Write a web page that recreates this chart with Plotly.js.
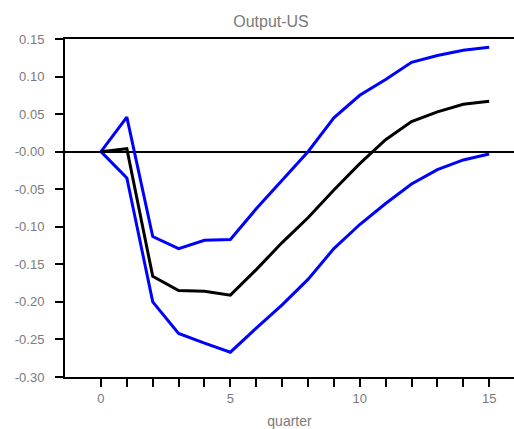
<!DOCTYPE html>
<html>
<head>
<meta charset="utf-8">
<script src="https://cdn.plot.ly/plotly-3.0.1.min.js"></script>
<style>
  html, body { margin: 0; padding: 0; background: #fff; }
  #chart { width: 514px; height: 429px; }
</style>
</head>
<body>
<div id="chart"></div>
<script>
const quarters = [0, 1, 2, 3, 4, 5, 6, 7, 8, 9, 10, 11, 12, 13, 14, 15];
const response = [0, 0.004, -0.166, -0.185, -0.186, -0.191, -0.157, -0.121, -0.088, -0.051, -0.016, 0.016, 0.040, 0.053, 0.063, 0.067];
const upperBand = [0, 0.046, -0.113, -0.129, -0.118, -0.117, -0.076, -0.038, 0.000, 0.045, 0.075, 0.096, 0.119, 0.128, 0.135, 0.139];
const lowerBand = [0, -0.035, -0.200, -0.242, -0.255, -0.267, -0.235, -0.204, -0.170, -0.129, -0.097, -0.069, -0.043, -0.024, -0.011, -0.003];

const xTickVals = [0, 1, 2, 3, 4, 5, 6, 7, 8, 9, 10, 11, 12, 13, 14, 15];
const xTickText = ["0", "", "", "", "", "5", "", "", "", "", "10", "", "", "", "", "15"];
const yTickVals = [-0.30, -0.25, -0.20, -0.15, -0.10, -0.05, 0.00, 0.05, 0.10, 0.15];
const yTickText = ["-0.30", "-0.25", "-0.20", "-0.15", "-0.10", "-0.05", "-0.00", "0.05", "0.10", "0.15"];

const textGray = '#7a7a7a';
const fontFam = 'Liberation Sans, Arial, sans-serif';

const traces = [
  { x: quarters, y: upperBand, mode: 'lines', line: { color: '#0000ff', width: 3 }, name: 'upper', hoverinfo: 'skip' },
  { x: quarters, y: lowerBand, mode: 'lines', line: { color: '#0000ff', width: 3 }, name: 'lower', hoverinfo: 'skip' },
  { x: quarters, y: response, mode: 'lines', line: { color: '#000000', width: 3 }, name: 'response', hoverinfo: 'skip' }
];

const layout = {
  width: 514,
  height: 429,
  margin: { l: 65, r: 0, t: 39, b: 52 },
  paper_bgcolor: '#ffffff',
  plot_bgcolor: '#ffffff',
  showlegend: false,
  font: { family: fontFam, color: textGray, size: 13 },
  title: {
    text: 'Output-US',
    font: { family: fontFam, size: 16, color: textGray },
    xref: 'container', x: 271 / 514, xanchor: 'center',
    yref: 'container', y: 1 - 21 / 429, yanchor: 'middle'
  },
  xaxis: {
    range: [-1.39, 15.96],
    tickmode: 'array',
    tickvals: xTickVals,
    ticktext: xTickText,
    ticks: 'outside', ticklen: 8, tickwidth: 2, tickcolor: '#000',
    showline: true, linecolor: '#000', linewidth: 2, mirror: true,
    showgrid: false, zeroline: false,
    tickfont: { family: fontFam, size: 13, color: textGray },
    title: { text: 'quarter', font: { family: fontFam, size: 14, color: textGray }, standoff: 12 }
  },
  yaxis: {
    range: [-0.30, 0.15],
    tickmode: 'array',
    tickvals: yTickVals,
    ticktext: yTickText,
    ticks: 'outside', ticklen: 8, tickwidth: 2, tickcolor: '#000',
    showline: true, linecolor: '#000', linewidth: 2,
    showgrid: false,
    zeroline: true, zerolinecolor: '#000', zerolinewidth: 2,
    ticklabelstandoff: 8,
    tickfont: { family: fontFam, size: 13, color: textGray }
  }
};

Plotly.newPlot('chart', traces, layout, { displayModeBar: false, staticPlot: true });
</script>
</body>
</html>
